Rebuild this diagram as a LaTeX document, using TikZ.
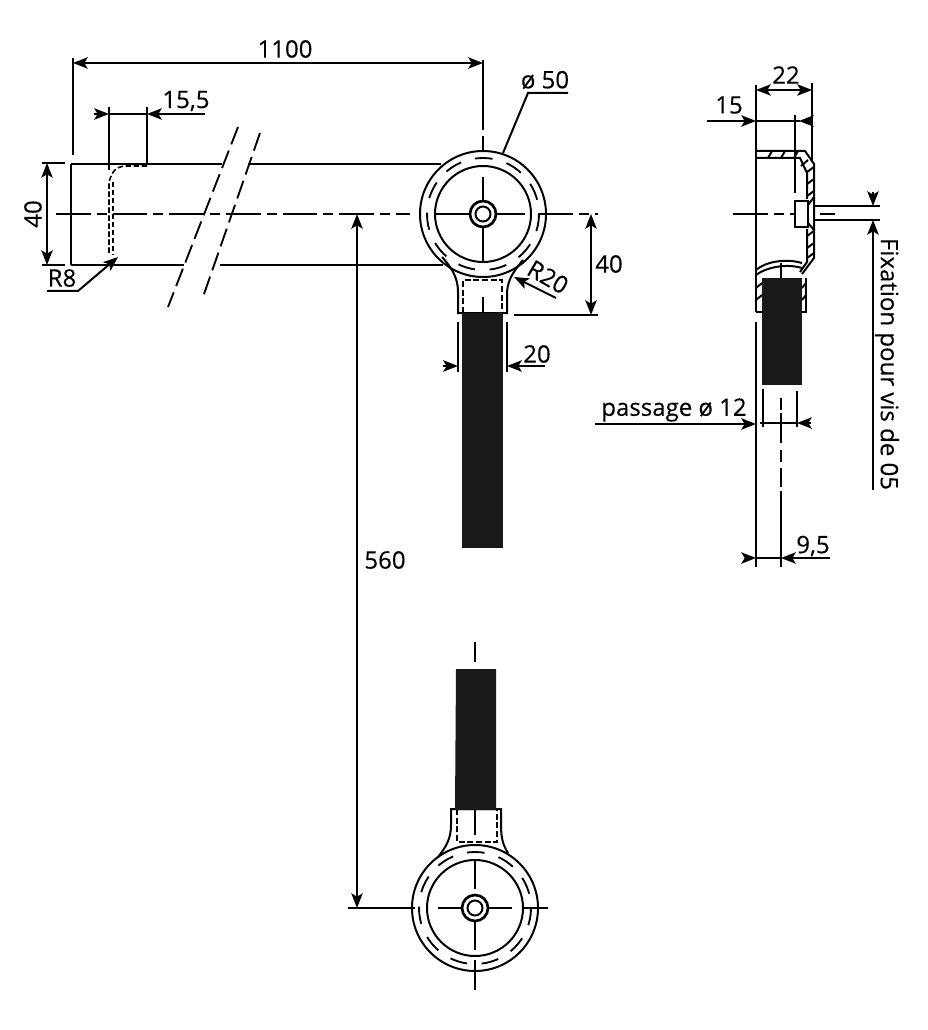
\documentclass[tikz,border=0pt]{standalone}
\usepackage{fontspec}
\setmainfont{Open Sans}[FakeBold=0.25]
\usetikzlibrary{arrows.meta,positioning,calc}
\tikzset{
  >={Stealth[length=11pt,width=8.5pt,inset=2.5pt]},
  trait/.style={line width=1.5pt},
  axe/.style={line width=1.4pt,dash pattern=on 26pt off 4.5pt on 7.5pt off 4.5pt},
  cache/.style={line width=1.5pt,dash pattern=on 4.5pt off 2pt},
  cercle/.style={line width=1.4pt,dash pattern=on 13pt off 11pt},
  cote/.style={font=\fontsize{18}{20}\selectfont,inner sep=0pt},
  barre/.style={fill=black!90,draw=none}
}
\begin{document}
\begin{tikzpicture}[x=0.75pt,y=-0.75pt]
  \useasboundingbox (0,0) rectangle (927,1030);

  % tube
  \draw[trait] (71,164) -- (71,265);
  \draw[trait] (71,164) -- (222,164);
  \draw[trait] (248,164) -- (441,164);
  \draw[trait] (71,265) -- (184,265);
  \draw[trait] (220,265) -- (443,265);
  \draw[axe] (56,214) -- (410,214);
  \draw[line width=1.4pt,dash pattern=on 14pt off 5pt] (238,127) -- (168,307);
  \draw[line width=1.4pt,dash pattern=on 14pt off 5pt] (260,133) -- (203,297);
  \draw[cache,line width=1.2pt,dash pattern=on 4pt off 2pt] (147,166) -- (125,166) .. controls (115,167) and (112,172) .. (109,182) -- (109,255);
  \draw[cache,line width=1.2pt,dash pattern=on 4pt off 2pt] (113,182) -- (113,255);

  % cotes tube
  \draw[trait] (73,58) -- (73,155);
  \draw[trait] (483,60) -- (483,130);
  \draw[trait] (483,136) -- (483,150);
  \draw[trait,<->] (73,63) -- (483,63);
  \node[cote] (l1100) at (285,49) {1100};
  \draw[trait] (109,107) -- (109,170);
  \draw[trait] (147,107) -- (147,165);
  \draw[trait,->] (94,114) -- (109,114);
  \draw[trait] (109,114) -- (147,114);
  \draw[trait,->] (205,114) -- (147,114);
  \node[cote] (l155) at (186,101) {15,5};
  \draw[trait] (42,163) -- (65,163);
  \draw[trait] (42,265) -- (65,265);
  \draw[trait,<->] (47,163) -- (47,265);
  \node[cote,rotate=90] (l40a) at (33,214) {40};
  \draw[trait,->] (47,291) -- (78,291) -- (118,257);
  \node[cote] (lr8) at (62,278) {R8};

  % oeil du haut
  \coordinate (oh) at (483,214);
  \draw[trait] (oh) circle[radius=63];
  \draw[trait] (oh) circle[radius=48];
  \draw[cercle] (oh) circle[radius=56];
  \draw[line width=2pt] (oh) circle[radius=13];
  \draw[trait] (oh) circle[radius=7.5];
  \draw[trait] (435,214) -- (470,214);
  \draw[trait] (496,214) -- (525,214);
  \draw[trait] (483,177) -- (483,200);
  \draw[trait] (483,228) -- (483,262);
  \draw[axe] (538,214) -- (598,214);
  \draw[trait] (442,257) .. controls (450,266) and (458,276) .. (458,292) -- (458,313) -- (507,313) -- (507,292) .. controls (508,278) and (515,270) .. (523,260);
  \draw[cache] (463,313) -- (463,280) -- (502,280) -- (502,313);
  \draw[trait] (483,297) -- (483,313);
  \fill[barre] (462,313) rectangle (503,548);

  % cotes oeil
  \draw[trait] (458,322) -- (458,372);
  \draw[trait] (507,322) -- (507,372);
  \draw[trait,->] (443,366) -- (458,366);
  \draw[trait,->] (545,366) -- (507,366);
  \node[cote] (l20) at (537,354) {20};
  \draw[trait] (514,315) -- (598,315);
  \draw[trait,<->] (591,214) -- (591,315);
  \node[cote] (l40b) at (609,264) {40};
  \draw[trait,->] (556,298) -- (514,277);
  \node[cote,rotate=-30] (lr20) at (548,277) {R20};
  \draw[trait] (568,93) -- (528,93) -- (503,153);
  \node[cote] (l50) at (545,80) {ø 50};

  % vue de cote
  \draw[trait] (756,85) -- (756,312);
  \draw[trait] (756,322) -- (756,567);
  \draw[line width=1.8pt] (812,83) -- (812,160);
  \draw[trait,<->] (756,90) -- (812,90);
  \node[cote] (l22) at (786,75) {22};
  \draw[trait] (795,115) -- (795,193);
  \draw[trait,->] (707,121) -- (756,121);
  \draw[trait] (756,121) -- (800,121);
  \draw[trait,->] (812,121) -- (799,121);
  \node[cote] (l15) at (729,105) {15};
  \draw[trait] (756,151) -- (805,151) -- (814,164) -- (814,258) -- (802,274);
  \draw[trait] (756,158) -- (800,158) -- (807,173) -- (807,199);
  \draw[trait] (807,229) -- (807,262) -- (800,272);
  \draw[trait] (795,201) -- (808,201) -- (808,227) -- (795,227) -- cycle;
  \foreach \xh in {768,781,794}
    \draw[trait] (\xh,158) -- (\xh+4,151);
  \foreach \yh in {172,184,196,236,248,258}
    \draw[trait] (807,\yh) -- (814,\yh-5);
  \draw[trait] (801,166) -- (808,160);
  \draw[trait] (808,205) -- (814,197);
  \draw[trait] (808,223) -- (814,230);
  \draw[trait] (756,275) .. controls (765,268) and (785,263) .. (802,268);
  \draw[trait] (756,270) .. controls (765,262) and (785,258) .. (802,263);
  \draw[trait] (781,263) -- (781,278);
  \draw[trait] (756,312) -- (762,312);
  \draw[trait] (802,312) -- (806,312) -- (806,278);
  \foreach \yh in {288,300}
    \draw[trait] (756,\yh) -- (762,\yh-5);
  \foreach \yh in {288,300}
    \draw[trait] (802,\yh) -- (806,\yh-5);
  \fill[barre] (762,278) rectangle (802,385);
  \draw[axe] (733,214) -- (795,214);
  \draw[trait] (820,214) -- (835,214);
  \draw[trait] (814,206) -- (880,206);
  \draw[trait] (814,220) -- (880,220);
  \draw[trait,->] (873,192) -- (873,206);
  \draw[trait,->] (873,490) -- (873,220);
  \node[cote,rotate=-90] (lfix) at (887,364) {Fixation pour vis de 05};

  % bas vue de cote
  \draw[trait] (763,389) -- (763,427);
  \draw[trait] (797,391) -- (797,427);
  \draw[trait] (781,398) -- (781,410);
  \draw[line width=2pt] (781,413) -- (781,443);
  \draw[trait] (781,450) -- (781,462);
  \draw[trait] (781,468) -- (781,487);
  \draw[trait] (781,491) -- (781,567);
  \draw[trait] (760,423) -- (797,423);
  \draw[trait,->] (811,423) -- (797,423);
  \draw[line width=1.8pt,->] (595,424) -- (756,424);
  \node[cote] (lpass) at (674,410) {passage ø 12};
  \draw[trait,->] (745,558) -- (756,558);
  \draw[trait] (756,558) -- (781,558);
  \draw[trait,->] (830,558) -- (781,558);
  \node[cote] (l95) at (813,546) {9,5};

  % cote 560
  \draw[trait,<->] (357,214) -- (357,908);
  \draw[trait] (348,908) -- (415,908);
  \node[cote] (l560) at (385,560) {560};

  % oeil du bas
  \coordinate (ob) at (475,908);
  \draw[trait] (ob) circle[radius=63];
  \draw[trait] (ob) circle[radius=48];
  \draw[cercle] (ob) circle[radius=56];
  \draw[line width=2pt] (ob) circle[radius=13];
  \draw[trait] (ob) circle[radius=7.5];
  \draw[trait] (438,908) -- (462,908);
  \draw[trait] (488,908) -- (512,908);
  \draw[trait] (523,908) -- (548,908);
  \draw[trait] (475,860) -- (475,889);
  \draw[trait] (475,921) -- (475,950);
  \draw[line width=2pt] (475,960) -- (475,990);
  \draw[trait] (438,857) .. controls (445,848) and (451,840) .. (451,825) -- (451,809) -- (501,809) -- (501,825) .. controls (501,838) and (503,845) .. (508,853);
  \draw[cache] (457,809) -- (457,842) -- (497,842) -- (497,809);
  \draw[trait] (475,809) -- (475,835);
  \fill[barre] (455,810) -- (456,669) -- (496,669) -- (496,810) -- cycle;
  \draw[trait] (475,642) -- (475,662);
\end{tikzpicture}
\end{document}
